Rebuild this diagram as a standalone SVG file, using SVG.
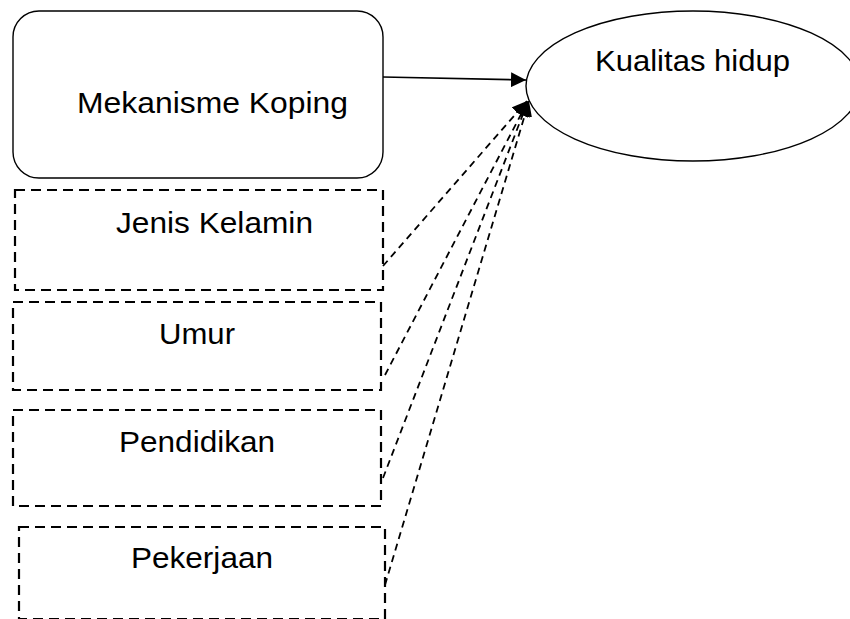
<svg xmlns="http://www.w3.org/2000/svg" width="850" height="619" viewBox="0 0 850 619">
<style>
.solid{fill:#fff;stroke:#000;stroke-width:1.4}
.dbox{fill:none;stroke:#000;stroke-width:2.2;stroke-dasharray:10 6}
.lbl{font-family:"Liberation Sans",Arial,sans-serif;font-size:29px;fill:#000}
.conn{fill:none;stroke:#000;stroke-width:1.7}
.dconn{fill:none;stroke:#000;stroke-width:1.8;stroke-dasharray:7 5}
</style>
<defs>
<marker id="ah" viewBox="0 0 10 10" refX="10" refY="5" markerWidth="15" markerHeight="15" markerUnits="userSpaceOnUse" orient="auto">
<path d="M0,0 L10,5 L0,10 Z" fill="#000"/>
</marker>
</defs>
<rect width="850" height="619" fill="#fff"/>
<g id="node-mekanisme">
<rect class="solid" x="13" y="11" width="370" height="167" rx="26" ry="26"/>
<text class="lbl" x="77" y="113" textLength="271" lengthAdjust="spacingAndGlyphs">Mekanisme Koping</text>
</g>
<g id="node-kualitas">
<ellipse class="solid" cx="693" cy="86" rx="167" ry="75"/>
<text class="lbl" x="595" y="71" textLength="195" lengthAdjust="spacingAndGlyphs">Kualitas hidup</text>
</g>
<g id="node-jenis">
<rect class="dbox" x="15" y="190" width="368" height="100"/>
<text class="lbl" x="116" y="233" textLength="197" lengthAdjust="spacingAndGlyphs">Jenis Kelamin</text>
</g>
<g id="node-umur">
<rect class="dbox" x="13" y="302" width="368" height="88"/>
<text class="lbl" x="159" y="344" textLength="76" lengthAdjust="spacingAndGlyphs">Umur</text>
</g>
<g id="node-pendidikan">
<rect class="dbox" x="13" y="410" width="368" height="96"/>
<text class="lbl" x="119" y="452" textLength="156" lengthAdjust="spacingAndGlyphs">Pendidikan</text>
</g>
<g id="node-pekerjaan">
<rect class="dbox" x="19" y="527" width="366" height="92"/>
<text class="lbl" x="131" y="568" textLength="142" lengthAdjust="spacingAndGlyphs">Pekerjaan</text>
</g>
<g id="connectors">
<line class="conn" x1="383" y1="77" x2="526" y2="80" marker-end="url(#ah)"/>
<line class="dconn" x1="383" y1="266" x2="527" y2="101" marker-end="url(#ah)"/>
<line class="dconn" x1="385" y1="375" x2="528" y2="101" marker-end="url(#ah)"/>
<line class="dconn" x1="383" y1="478" x2="528" y2="101" marker-end="url(#ah)"/>
<line class="dconn" x1="385" y1="585" x2="529" y2="101" marker-end="url(#ah)"/>
</g>
</svg>
